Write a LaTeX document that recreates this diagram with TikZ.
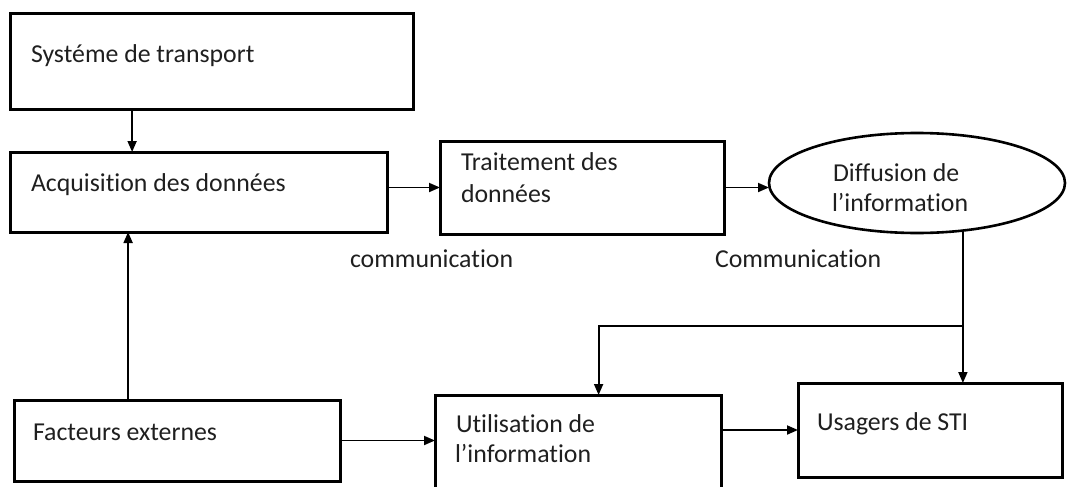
\documentclass[tikz,border=0pt]{standalone}
\usepackage{fontspec}
\setmainfont{Carlito}[Ligatures=NoCommon]
\usetikzlibrary{shapes.geometric,arrows.meta,calc}
\begin{document}
\begin{tikzpicture}[x=1pt,y=-1pt,
  box/.style={draw, line width=3pt, inner sep=0pt, outer sep=0pt},
  txt/.style={anchor=base west, inner sep=0pt, outer sep=0pt,
              font=\fontsize{25.8}{31.5}\selectfont, text=black!88},
  link/.style={line width=1.8pt},
  arr/.style={link, -{Triangle[length=11pt,width=9pt]}}]
\useasboundingbox (0,0) rectangle (1068,487);
\clip (0,0) rectangle (1068,487);

% blocks
\node[box, minimum width=403pt, minimum height=95pt] (sys)   at (211.5,61.5) {};
\node[box, minimum width=377pt, minimum height=80pt] (acq)   at (198.5,192)  {};
\node[box, minimum width=284pt, minimum height=93pt] (trait) at (582,187.5)  {};
\node[draw, ellipse, line width=2.6pt, inner sep=0pt, outer sep=0pt,
      minimum width=296pt, minimum height=100pt] (diff) at (917,183) {};
\node[box, minimum width=326pt, minimum height=81pt] (fact)  at (177,440.5)  {};
\node[box, minimum width=286pt, minimum height=104pt] (util) at (578,447)    {};
\node[box, minimum width=264pt, minimum height=94pt] (usag)  at (930,430)    {};

% block texts
\node[txt] (tsys)   at (31,62.5)   {Systéme de transport};
\node[txt] (tacq)   at (31,191)    {Acquisition des données};
\node[txt] (ttr1)   at (461,170.5) {Traitement des};
\node[txt] (ttr2)   at (461,202)   {données};
\node[txt] (tdi1)   at (833,181.5) {Diffusion de};
\node[txt] (tdi2)   at (832,211)   {l’information};
\node[txt] (tfact)  at (33,440)    {Facteurs externes};
\node[txt] (tut1)   at (456,432)   {Utilisation de};
\node[txt] (tut2)   at (455,462)   {l’information};
\node[txt] (tusag)  at (817,430.5) {Usagers de STI};

% link labels
\node[txt] (com1) at (350,267) {communication};
\node[txt] (com2) at (715,267) {Communication};

% connection points
\coordinate (s1) at ($(sys.south west)!0.303!(sys.south east)$);
\coordinate (f1) at ($(fact.north west)!0.35!(fact.north east)$);
\coordinate (u1) at ($(util.north west)!0.572!(util.north east)$);
\coordinate (d1) at (diff.-46.3);
\coordinate (split) at (d1 |- 0,326);

% connectors
\draw[arr] (s1) -- (s1 |- acq.north);
\draw[arr] (f1) -- (f1 |- acq.south);
\draw[arr] (acq.east |- trait.west) -- (trait.west);
\draw[arr] (trait.east) -- (trait.east -| diff.west);
\draw[arr] (d1) -- (d1 |- usag.north);
\draw[arr] (split) -| (u1);
\draw[arr] (fact.east) -- (fact.east -| util.west);
\draw[arr] (util.east |- usag.west) -- (usag.west);
\end{tikzpicture}
\end{document}
